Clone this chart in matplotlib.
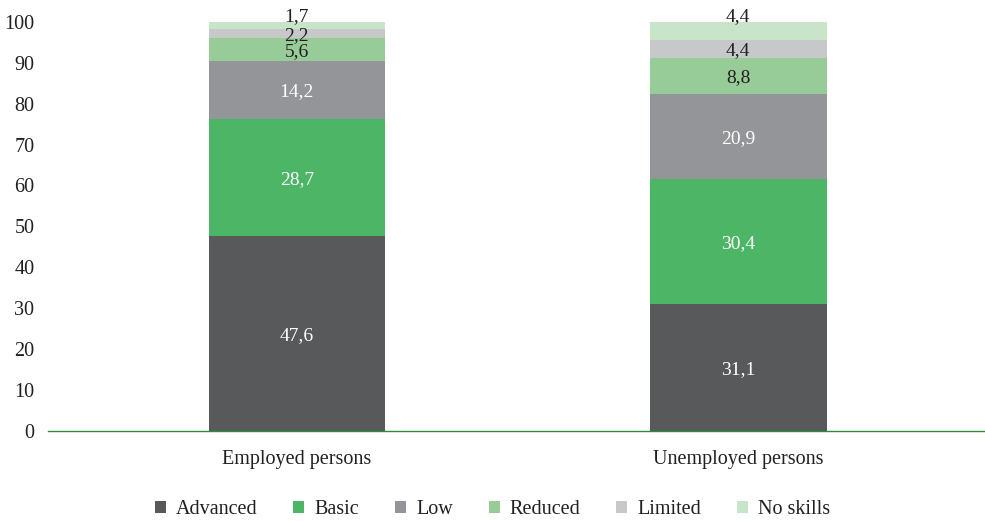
import matplotlib
matplotlib.use("Agg")
import matplotlib.pyplot as plt
import numpy as np

plt.rcParams['font.family'] = ['Liberation Serif', 'DejaVu Serif']

categories = ["Employed persons", "Unemployed persons"]
levels = ["Advanced", "Basic", "Low", "Reduced", "Limited", "No skills"]
advanced = [47.6, 31.1]
basic = [28.7, 30.4]
low = [14.2, 20.9]
reduced = [5.6, 8.8]
limited = [2.2, 4.4]
no_skills = [1.7, 4.4]
yticks = [0, 10, 20, 30, 40, 50, 60, 70, 80, 90, 100]

series = [advanced, basic, low, reduced, limited, no_skills]
colors = ["#58595b", "#4db566", "#939598", "#97cb98", "#c7c8ca", "#c9e5c9"]
text_colors = ["white", "white", "white", "#231f20", "#231f20", "#231f20"]
FS = 14.5
LFS = 14

fig = plt.figure(figsize=(9.85, 5.21), dpi=100)
ax = fig.add_axes([0.049, 0.173, 0.951, 0.785])

x = np.arange(len(categories))
bottom = np.zeros(len(categories))
for i, (name, vals) in enumerate(zip(levels, series)):
    vals = np.array(vals)
    ax.bar(x, vals, width=0.40, bottom=bottom, color=colors[i], label=name,
           linewidth=0)
    for j, v in enumerate(vals):
        ypos = bottom[j] + v / 2
        if i == len(series) - 1:
            ypos = bottom[j] + v + 1.7
        ax.text(x[j], ypos, f"{v:.1f}".replace(".", ","), ha="center",
                va="center_baseline", color=text_colors[i], fontsize=LFS)
    bottom += vals

ax.set_xlim(-0.563, 1.559)
ax.set_ylim(0, 100)
ax.set_yticks(yticks)
ax.set_yticklabels([str(t) for t in yticks], fontsize=FS, color="#231f20")
ax.set_xticks(x)
ax.set_xticklabels(categories, fontsize=FS, color="#231f20")
ax.tick_params(axis="both", length=0)
ax.tick_params(axis="x", pad=14)
ax.tick_params(axis="y", pad=10)
for s in ["top", "right", "left"]:
    ax.spines[s].set_visible(False)
ax.spines["bottom"].set_color("#2e8b3e")
ax.spines["bottom"].set_linewidth(1.0)

fig.legend(loc="lower center", bbox_to_anchor=(0.5, -0.012), ncol=6, frameon=False,
           borderaxespad=0.0, fontsize=FS, handlelength=0.55, handleheight=0.55,
           handletextpad=0.5, columnspacing=1.78, labelcolor="#231f20")

fig.savefig("out.png", dpi=100)
